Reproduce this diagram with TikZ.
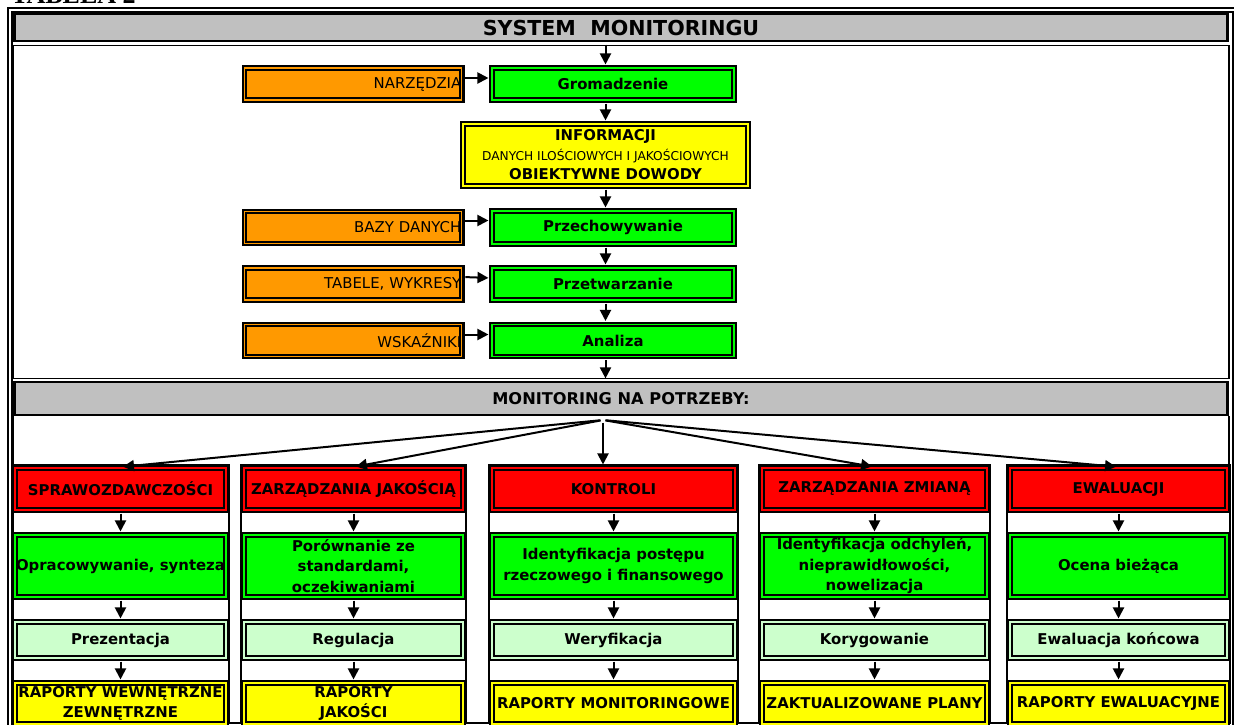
\documentclass[tikz,border=0pt]{standalone}
\usepackage{fontspec}
\setmainfont{DejaVu Sans}
\newfontfamily\titlefont{Liberation Serif}
\usetikzlibrary{arrows.meta}
\definecolor{toolorange}{HTML}{FF9900}
\definecolor{stagegreen}{HTML}{00FF00}
\definecolor{needred}{HTML}{FF0000}
\definecolor{resultyellow}{HTML}{FFFF00}
\definecolor{taskmint}{HTML}{CCFFCC}
\definecolor{bargray}{HTML}{C0C0C0}
\newcommand{\boxfont}{\fontsize{14.9}{20.5}\selectfont}

\begin{document}
\begin{tikzpicture}[x=1pt,y=-1pt,
  box/.style={draw,line width=2.1pt,double distance=1.2pt,inner sep=0.5pt,align=center,font=\boxfont\bfseries},
  tool/.style={box,fill=toolorange,double=toolorange,font=\boxfont,text width=216.6pt,align=right,minimum height=32pt},
  stage/.style={box,fill=stagegreen,double=stagegreen},
  need/.style={box,fill=needred,double=needred,minimum height=42pt},
  task/.style={box,fill=taskmint,double=taskmint,minimum height=36pt},
  result/.style={box,fill=resultyellow,double=resultyellow,minimum height=41pt},
  bar/.style={draw,line width=2.2pt,fill=bargray,inner sep=0pt,font=\bfseries},
  arr/.style={line width=2pt,-{Triangle[length=11pt,width=11pt]},shorten >=2.5pt,shorten <=2.5pt}]
\useasboundingbox (0,0) rectangle (1234,724);

% frame and sections
\draw[line width=1.6pt,double,double distance=2pt] (10,745) -- (10,10) -- (1234.6,10) -- (1234.6,745);
\node[bar,minimum width=1213pt,minimum height=27pt,font=\fontsize{20.6}{24}\selectfont\bfseries] (sysbar) at (621,27.5) {SYSTEM~~MONITORINGU};
\draw[line width=1.6pt] (13.5,45.5) rectangle (1228.8,378.5);
\node[bar,minimum width=1213pt,minimum height=33pt,font=\fontsize{16.2}{20}\selectfont\bfseries] (potrzeby) at (621,398.5) {MONITORING NA POTRZEBY:};
\draw[line width=1.6pt] (13.5,416) -- (13.5,745);
\draw[line width=1.6pt] (1228.8,416) -- (1228.8,465);
\node[anchor=base west,inner sep=0pt,font=\fontsize{26}{26}\selectfont\titlefont\bfseries] (tabela) at (11,3) {TABELA 2};

% table cells below
\draw[line width=1.2pt] (12,465) rectangle (229,723);
\draw[line width=1.2pt] (241,465) rectangle (466,723);
\draw[line width=1.2pt] (489,465) rectangle (738,723);
\draw[line width=1.2pt] (759,465) rectangle (990,723);
\draw[line width=1.2pt] (1007,465) rectangle (1230,723);
\draw[line width=1.4pt] (12,723) -- (1230,723);

% gathering chain
\node[tool] (narz) at (353,84) {NARZĘDZIA};
\node[stage,minimum width=242pt,minimum height=32pt] (grom) at (613,84) {Gromadzenie};
\node[box,fill=resultyellow,double=resultyellow,minimum width=285pt,minimum height=62pt,font=\fontsize{14.9}{19.5}\selectfont] (info) at (605.5,155)
  {\bfseries INFORMACJI\\{\fontsize{12.2}{19.5}\selectfont DANYCH ILOŚCIOWYCH I JAKOŚCIOWYCH}\\\bfseries OBIEKTYWNE DOWODY};
\node[tool] (bazy) at (353,227.5) {BAZY DANYCH};
\node[stage,minimum width=242pt,minimum height=33pt] (przech) at (613,227.5) {Przechowywanie};
\node[tool] (tabele) at (353,284) {TABELE, WYKRESY};
\node[stage,minimum width=242pt,minimum height=32pt] (przetw) at (613,284) {Przetwarzanie};
\node[tool] (wskaz) at (353,340.5) {WSKAŹNIKI};
\node[stage,minimum width=242pt,minimum height=32pt] (analiza) at (613,340.5) {Analiza};

\draw[arr] (info |- sysbar.south) -- (info |- grom.north);
\draw[arr] (info |- grom.south) -- (info.north);
\draw[arr] (info.south) -- (info |- przech.north);
\draw[arr] (info |- przech.south) -- (info |- przetw.north);
\draw[arr] (info |- przetw.south) -- (info |- analiza.north);
\draw[arr] (info |- analiza.south) -- (info |- potrzeby.north);
\draw[arr] ([yshift=6pt]narz.east) -- ([yshift=6pt]grom.west);
\draw[arr] ([yshift=7pt]bazy.east) -- ([yshift=7pt]przech.west);
\draw[arr] ([yshift=7pt]tabele.east) -- ([yshift=6pt]przetw.west);
\draw[arr] ([yshift=6pt]wskaz.east) -- ([yshift=6pt]analiza.west);

% needs
\node[need,minimum width=211pt] (spraw) at (120.5,489) {SPRAWOZDAWCZOŚCI};
\node[need,minimum width=219pt] (jakosc) at (353.5,489) {ZARZĄDZANIA JAKOŚCIĄ};
\node[need,minimum width=243pt] (kontrola) at (613.5,489) {KONTROLI};
\node[need,minimum width=225pt] (zmiana) at (874.5,489) {ZARZĄDZANIA ZMIANĄ};
\node[need,minimum width=217pt] (ewal) at (1118.5,489) {EWALUACJI};

\coordinate (fan) at (603,420);
\draw[arr] (fan) -- (spraw.north);
\draw[arr] (fan) -- (jakosc.north);
\draw[arr] (fan) -- (fan |- kontrola.north);
\draw[arr] (fan) -- (zmiana.north);
\draw[arr] (fan) -- (ewal.north);

% processing per need
\node[stage,minimum width=211pt,minimum height=62pt] (synteza) at (120.5,566) {Opracowywanie, synteza};
\node[stage,minimum width=219pt,minimum height=62pt] (porown) at (353.5,566) {Porównanie ze\\standardami,\\oczekiwaniami};
\node[stage,minimum width=243pt,minimum height=62pt] (postep) at (613.5,566) {Identyfikacja postępu\\rzeczowego i finansowego};
\node[stage,minimum width=225pt,minimum height=62pt] (odchyl) at (874.5,566) {Identyfikacja odchyleń,\\nieprawidłowości,\\nowelizacja};
\node[stage,minimum width=217pt,minimum height=62pt] (ocena) at (1118.5,566) {Ocena bieżąca};

\node[task,minimum width=211pt] (prez) at (120.5,640) {Prezentacja};
\node[task,minimum width=219pt] (regul) at (353.5,640) {Regulacja};
\node[task,minimum width=243pt] (weryf) at (613.5,640) {Weryfikacja};
\node[task,minimum width=225pt] (koryg) at (874.5,640) {Korygowanie};
\node[task,minimum width=217pt] (koncowa) at (1118.5,640) {Ewaluacja końcowa};

\node[result,minimum width=211pt] (rapwew) at (120.5,703.5) {RAPORTY WEWNĘTRZNE\\ZEWNĘTRZNE};
\node[result,minimum width=219pt] (rapjak) at (353.5,703.5) {RAPORTY\\JAKOŚCI};
\node[result,minimum width=243pt] (rapmon) at (613.5,703.5) {RAPORTY MONITORINGOWE};
\node[result,minimum width=225pt] (plany) at (874.5,703.5) {ZAKTUALIZOWANE PLANY};
\node[result,minimum width=217pt] (rapewal) at (1118.5,703.5) {RAPORTY EWALUACYJNE};

\draw[arr] (spraw) -- (synteza);
\draw[arr] (synteza) -- (prez);
\draw[arr] (prez) -- (rapwew);
\draw[arr] (jakosc) -- (porown);
\draw[arr] (porown) -- (regul);
\draw[arr] (regul) -- (rapjak);
\draw[arr] (kontrola) -- (postep);
\draw[arr] (postep) -- (weryf);
\draw[arr] (weryf) -- (rapmon);
\draw[arr] (zmiana) -- (odchyl);
\draw[arr] (odchyl) -- (koryg);
\draw[arr] (koryg) -- (plany);
\draw[arr] (ewal) -- (ocena);
\draw[arr] (ocena) -- (koncowa);
\draw[arr] (koncowa) -- (rapewal);
\end{tikzpicture}
\end{document}
